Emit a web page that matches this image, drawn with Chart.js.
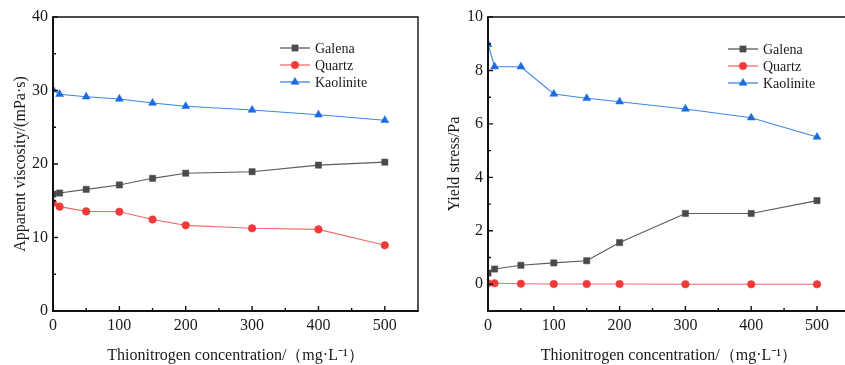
<!DOCTYPE html>
<html>
<head>
<meta charset="utf-8">
<script src="https://cdn.jsdelivr.net/npm/chart.js@4.4.1/dist/chart.umd.min.js"></script>
<style>
  html, body { margin: 0; padding: 0; background: #fff; overflow: hidden; }
  body { width: 845px; height: 365px; position: relative; }
  .box { position: absolute; top: 0; height: 365px; }
  #boxVisc { left: 0; width: 425px; }
  #boxYield { left: 425px; width: 430px; }
</style>
</head>
<body>
<div class="box" id="boxVisc"><canvas id="visc"></canvas></div>
<div class="box" id="boxYield"><canvas id="yield"></canvas></div>
<script>
/* Concentração de tionitrogênio (mg/L) e séries */
const concentrations = [0, 10, 50, 100, 150, 200, 300, 400, 500];

const viscGalena    = [15.9, 16.05, 16.55, 17.15, 18.05, 18.75, 18.95, 19.85, 20.25];
const viscQuartz    = [14.7, 14.2, 13.55, 13.5, 12.45, 11.65, 11.25, 11.1, 8.95];
const viscKaolinite = [30.1, 29.5, 29.15, 28.85, 28.3, 27.85, 27.35, 26.7, 25.95];

const yieldGalena    = [0.42, 0.57, 0.71, 0.8, 0.88, 1.56, 2.65, 2.65, 3.13];
const yieldQuartz    = [0.04, 0.04, 0.02, 0.01, 0.01, 0.01, 0.0, 0.0, 0.0];
const yieldKaolinite = [8.98, 8.14, 8.14, 7.12, 6.96, 6.83, 6.56, 6.23, 5.51];

const xTicks      = [0, 100, 200, 300, 400, 500];
const xMinor      = [50, 150, 250, 350, 450];
const viscTicks   = [0, 10, 20, 30, 40];
const viscMinor   = [5, 15, 25, 35];
const yieldTicks  = [0, 2, 4, 6, 8, 10];
const yieldMinor  = [-1, 1, 3, 5, 7, 9];

const FONT = '"Liberation Serif", "Times New Roman", serif';
const XTITLE = 'Thionitrogen concentration/（mg·L⁻¹）';

const SERIES = [
  { label: 'Galena',    line: '#5a5a5a', mark: '#4a4a4a', shape: 'rect',     r: 4.4 },
  { label: 'Quartz',    line: '#f06a6a', mark: '#f03a3a', shape: 'circle',   r: 3.8 },
  { label: 'Kaolinite', line: '#3d86e6', mark: '#1a6ddf', shape: 'triangle', r: 4.6 }
];

function montarDatasets(valores) {
  return valores.map((v, i) => {
    const s = SERIES[i];
    return {
      label: s.label,
      data: concentrations.map((x, k) => ({ x, y: v[k] })),
      borderColor: s.line, borderWidth: 1.1,
      pointStyle: s.shape, pointRadius: s.r, pointHoverRadius: s.r,
      pointBackgroundColor: s.mark, pointBorderColor: s.mark, pointBorderWidth: 0.5,
      tension: 0
    };
  });
}

/* moldura + ticks voltados para dentro + legenda com linha */
const moldura = {
  id: 'moldura',
  afterDatasetsDraw(chart, args, opts) {
    const ctx = chart.ctx, a = chart.chartArea;
    const xs = chart.scales.x, ys = chart.scales.y;
    ctx.save();
    ctx.strokeStyle = '#111';
    ctx.lineWidth = 1.4;
    ctx.beginPath();
    ctx.moveTo(a.left, a.top); ctx.lineTo(a.right, a.top); ctx.lineTo(a.right, a.bottom);
    ctx.stroke();
    ctx.lineWidth = 2;
    ctx.beginPath();
    ctx.moveTo(a.left, a.top - 0.7); ctx.lineTo(a.left, a.bottom); ctx.lineTo(a.right + 0.7, a.bottom);
    ctx.stroke();
    ctx.lineWidth = 1.4;
    ctx.beginPath();
    xTicks.forEach(v => { const p = xs.getPixelForValue(v); ctx.moveTo(p, a.bottom); ctx.lineTo(p, a.bottom - 5); });
    xMinor.forEach(v => { const p = xs.getPixelForValue(v); ctx.moveTo(p, a.bottom); ctx.lineTo(p, a.bottom - 3); });
    opts.major.forEach(v => { const p = ys.getPixelForValue(v); ctx.moveTo(a.left, p); ctx.lineTo(a.left + 5, p); });
    opts.minor.forEach(v => { const p = ys.getPixelForValue(v); if (p < a.bottom - 1) { ctx.moveTo(a.left, p); ctx.lineTo(a.left + 3, p); } });
    ctx.stroke();

    // legenda
    ctx.font = '14px ' + FONT;
    ctx.textBaseline = 'middle';
    ctx.textAlign = 'left';
    chart.data.datasets.forEach((d, i) => {
      const y = opts.legY + i * 17, x0 = opts.legX;
      ctx.strokeStyle = d.borderColor; ctx.lineWidth = 1.3;
      ctx.beginPath(); ctx.moveTo(x0, y); ctx.lineTo(x0 + 30, y); ctx.stroke();
      ctx.fillStyle = d.pointBackgroundColor;
      ctx.strokeStyle = d.pointBorderColor;
      ctx.lineWidth = 0.5;
      Chart.helpers.drawPoint(ctx, { pointStyle: d.pointStyle, radius: d.pointRadius, borderWidth: 0.5 }, x0 + 15, y);
      ctx.fillStyle = '#1a1a1a';
      ctx.fillText(d.label, x0 + 35, y + 1);
    });
    ctx.restore();
  }
};

function grafico(canvasId, valores, yMin, yMax, yTicks, yMinorT, yTitulo, cfg) {
  const el = document.getElementById(canvasId);
  return new Chart(el, {
    type: 'line',
    data: { datasets: montarDatasets(valores) },
    plugins: [moldura],
    options: {
      responsive: true, maintainAspectRatio: false, animation: false,
      layout: { padding: { top: 17, right: cfg.padRight, left: 0, bottom: 0 } },
      plugins: {
        legend: { display: false }, tooltip: { enabled: false },
        moldura: { major: yTicks, minor: yMinorT, legX: cfg.legX, legY: cfg.legY }
      },
      scales: {
        x: {
          type: 'linear', min: 0, max: 550,
          afterBuildTicks: s => { s.ticks = xTicks.map(v => ({ value: v })); },
          afterFit: s => { s.height = 54; },
          grid: { display: false, drawTicks: false },
          border: { display: false },
          ticks: { padding: 5, color: '#1a1a1a', font: { family: FONT, size: 16 } },
          title: { display: true, text: XTITLE, color: '#1a1a1a', padding: { top: 0, bottom: 0 },
                   font: { family: FONT, size: 16 } }
        },
        y: {
          min: yMin, max: yMax,
          afterBuildTicks: s => { s.ticks = yTicks.map(v => ({ value: v })); },
          afterFit: s => { s.width = cfg.yWidth; },
          grid: { display: false, drawTicks: false },
          border: { display: false },
          ticks: { padding: 5, color: '#1a1a1a', font: { family: FONT, size: 16 } },
          title: { display: true, text: yTitulo, color: '#1a1a1a', padding: { top: cfg.yTitlePad, bottom: 0 },
                   font: { family: FONT, size: 16 } }
        }
      }
    }
  });
}

grafico('visc', [viscGalena, viscQuartz, viscKaolinite], 0, 40, viscTicks, viscMinor,
  'Apparent viscosity/(mPa·s)', { padRight: 7, yWidth: 53, yTitlePad: 11, legX: 280, legY: 48 });
grafico('yield', [yieldGalena, yieldQuartz, yieldKaolinite], -1, 10, yieldTicks, yieldMinor,
  'Yield stress/Pa', { padRight: 2, yWidth: 63, yTitlePad: 20, legX: 303, legY: 49 });
</script>
</body>
</html>
